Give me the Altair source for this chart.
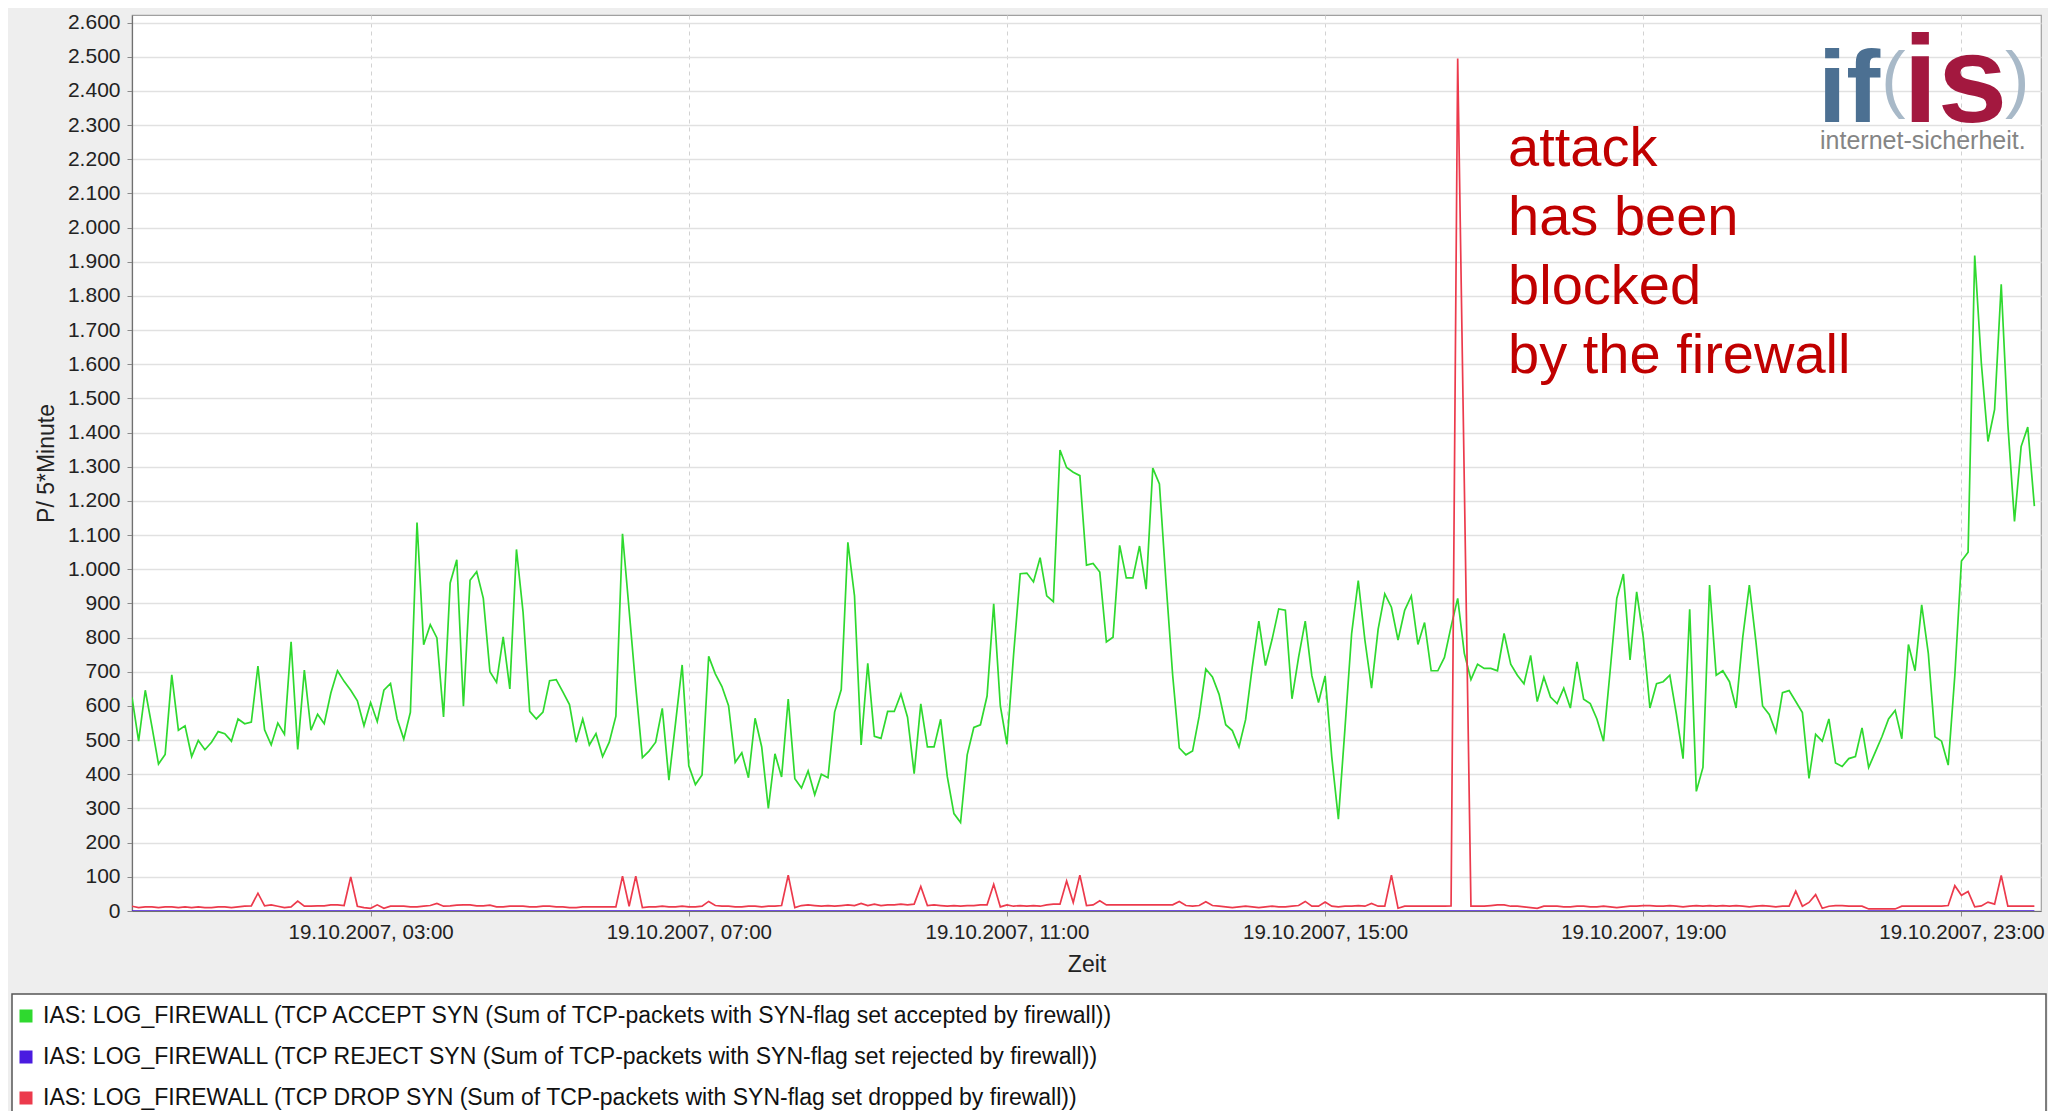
import altair as alt
import pandas as pd

# ---------------------------------------------------------------------------
# Data: 5-minute samples on 19.10.2007 from 00:00 to 23:55 (one row = one hour)
# ---------------------------------------------------------------------------
accept_syn = [
    625, 497, 646, 540, 430, 458, 691, 529, 542, 452, 499, 472,
    494, 525, 519, 497, 562, 548, 553, 717, 530, 486, 550, 517,
    788, 473, 705, 529, 576, 548, 638, 703, 672, 646, 615, 542,
    610, 554, 646, 666, 562, 503, 582, 1137, 779, 838, 799, 568,
    960, 1028, 599, 968, 993, 915, 700, 669, 802, 650, 1058, 874,
    584, 562, 582, 674, 677, 641, 604, 494, 562, 486, 519, 452,
    494, 570, 1104, 880, 655, 449, 468, 494, 593, 383, 550, 720,
    425, 370, 398, 745, 694, 657, 601, 435, 463, 390, 564, 480,
    300, 460, 392, 620, 387, 360, 410, 340, 400, 390, 582, 648,
    1079, 922, 486, 725, 511, 505, 584, 584, 635, 567, 402, 606,
    480, 480, 561, 393, 285, 259, 457, 537, 545, 629, 899, 600,
    488, 750, 987, 989, 963, 1034, 922, 905, 1349, 1298, 1284, 1274,
    1012, 1017, 992, 787, 801, 1070, 975, 975, 1068, 942, 1296, 1250,
    960, 690, 477, 457, 468, 570, 708, 685, 634, 545, 528, 480,
    560, 713, 848, 718, 795, 884, 880, 621, 743, 848, 688, 610,
    688, 451, 269, 536, 812, 967, 793, 652, 825, 928, 889, 793,
    880, 922, 780, 844, 703, 703, 742, 832, 915, 754, 677, 722,
    710, 710, 703, 812, 722, 690, 665, 748, 613, 684, 626, 607,
    652, 594, 729, 620, 607, 562, 497, 703, 915, 986, 735, 934,
    800, 594, 665, 671, 690, 575, 446, 883, 350, 420, 954, 690,
    703, 671, 594, 800, 954, 787, 600, 575, 523, 639, 645, 613,
    581, 388, 517, 497, 562, 433, 423, 446, 452, 536, 420, 465,
    510, 562, 587, 504, 780, 703, 896, 754, 510, 497, 427, 690,
    1024, 1050, 1918, 1603, 1374, 1468, 1834, 1423, 1140, 1359, 1416, 1185,
]

reject_syn = [
    0, 0, 0, 0, 0, 0, 0, 0, 0, 0, 0, 0,
    0, 0, 0, 0, 0, 0, 0, 0, 0, 0, 0, 0,
    0, 0, 0, 0, 0, 0, 0, 0, 0, 0, 0, 0,
    0, 0, 0, 0, 0, 0, 0, 0, 0, 0, 0, 0,
    0, 0, 0, 0, 0, 0, 0, 0, 0, 0, 0, 0,
    0, 0, 0, 0, 0, 0, 0, 0, 0, 0, 0, 0,
    0, 0, 0, 0, 0, 0, 0, 0, 0, 0, 0, 0,
    0, 0, 0, 0, 0, 0, 0, 0, 0, 0, 0, 0,
    0, 0, 0, 0, 0, 0, 0, 0, 0, 0, 0, 0,
    0, 0, 0, 0, 0, 0, 0, 0, 0, 0, 0, 0,
    0, 0, 0, 0, 0, 0, 0, 0, 0, 0, 0, 0,
    0, 0, 0, 0, 0, 0, 0, 0, 0, 0, 0, 0,
    0, 0, 0, 0, 0, 0, 0, 0, 0, 0, 0, 0,
    0, 0, 0, 0, 0, 0, 0, 0, 0, 0, 0, 0,
    0, 0, 0, 0, 0, 0, 0, 0, 0, 0, 0, 0,
    0, 0, 0, 0, 0, 0, 0, 0, 0, 0, 0, 0,
    0, 0, 0, 0, 0, 0, 0, 0, 0, 0, 0, 0,
    0, 0, 0, 0, 0, 0, 0, 0, 0, 0, 0, 0,
    0, 0, 0, 0, 0, 0, 0, 0, 0, 0, 0, 0,
    0, 0, 0, 0, 0, 0, 0, 0, 0, 0, 0, 0,
    0, 0, 0, 0, 0, 0, 0, 0, 0, 0, 0, 0,
    0, 0, 0, 0, 0, 0, 0, 0, 0, 0, 0, 0,
    0, 0, 0, 0, 0, 0, 0, 0, 0, 0, 0, 0,
    0, 0, 0, 0, 0, 0, 0, 0, 0, 0, 0, 0,
]

drop_syn = [
    14, 10, 12, 12, 10, 12, 12, 10, 12, 10, 12, 10,
    10, 12, 12, 10, 12, 14, 15, 52, 15, 18, 14, 10,
    12, 29, 14, 14, 15, 15, 18, 18, 16, 100, 14, 10,
    8, 18, 8, 14, 14, 14, 12, 12, 14, 16, 22, 14,
    15, 17, 18, 18, 15, 15, 17, 12, 12, 14, 14, 14,
    12, 12, 14, 14, 12, 12, 10, 10, 12, 12, 12, 12,
    12, 12, 102, 14, 102, 10, 12, 12, 14, 12, 12, 14,
    12, 12, 14, 28, 16, 14, 14, 12, 12, 14, 14, 12,
    14, 14, 16, 105, 10, 16, 18, 16, 14, 16, 14, 16,
    18, 16, 22, 16, 20, 16, 18, 18, 20, 18, 20, 72,
    16, 18, 16, 14, 16, 14, 16, 16, 18, 18, 78, 12,
    18, 14, 16, 14, 16, 14, 18, 20, 20, 88, 25, 105,
    16, 18, 30, 18, 18, 18, 18, 18, 18, 18, 18, 18,
    18, 18, 28, 16, 14, 16, 27, 16, 14, 12, 10, 12,
    14, 12, 10, 12, 14, 12, 12, 14, 16, 28, 14, 14,
    26, 14, 12, 14, 14, 16, 14, 22, 14, 14, 105, 8,
    14, 14, 14, 14, 14, 14, 14, 15, 2495, 1250, 14, 14,
    14, 16, 18, 18, 14, 14, 12, 10, 8, 14, 14, 14,
    12, 12, 14, 14, 12, 12, 14, 12, 10, 12, 14, 14,
    16, 16, 14, 14, 16, 14, 12, 14, 16, 14, 16, 14,
    16, 14, 16, 14, 12, 14, 16, 14, 12, 14, 14, 58,
    14, 25, 48, 8, 14, 16, 16, 14, 14, 14, 6, 6,
    6, 6, 6, 14, 14, 14, 14, 14, 14, 14, 16, 74,
    46, 57, 12, 15, 26, 20, 104, 14, 14, 14, 14, 14,
]

series_names = [
    "IAS: LOG_FIREWALL (TCP ACCEPT SYN (Sum of TCP-packets with SYN-flag set accepted by firewall))",
    "IAS: LOG_FIREWALL (TCP REJECT SYN (Sum of TCP-packets with SYN-flag set rejected by firewall))",
    "IAS: LOG_FIREWALL (TCP DROP SYN (Sum of TCP-packets with SYN-flag set dropped by firewall))",
]
series_colors = ["#2FD92F", "#4A1BE0", "#EC3A4C"]

y_ticks = [0, 100, 200, 300, 400, 500, 600, 700, 800, 900, 1000, 1100, 1200,
           1300, 1400, 1500, 1600, 1700, 1800, 1900, 2000, 2100, 2200, 2300,
           2400, 2500, 2600]
x_tick_hours = [3, 7, 11, 15, 19, 23]

annotation_text = "attack\nhas been\nblocked\nby the firewall"
annotation_time = "2007-10-19T17:18:00Z"
annotation_value = 2179

logo_parts = ["if", "(", "is", ")", "internet-sicherheit."]

# ---------------------------------------------------------------------------
start = pd.Timestamp("2007-10-19T00:00:00")
times = [(start + pd.Timedelta(minutes=5 * i)).strftime("%Y-%m-%dT%H:%M:%SZ")
         for i in range(len(accept_syn))]

rows = []
for name, values in zip(series_names, [accept_syn, reject_syn, drop_syn]):
    for t, v in zip(times, values):
        rows.append({"time": t, "value": v, "series": name})
df = pd.DataFrame(rows)

FONT = "Liberation Sans"

x_scale = alt.Scale(
    type="utc",
    domain=[alt.DateTime(year=2007, month=10, date=19, hours=0, utc=True),
            alt.DateTime(year=2007, month=10, date=20, hours=0, utc=True)],
)
y_scale = alt.Scale(domain=[0, 2622], nice=False, zero=True)

x_axis = alt.Axis(
    values=[alt.DateTime(year=2007, month=10, date=19, hours=h, utc=True) for h in x_tick_hours],
    labelExpr="utcFormat(datum.value, '%d.%m.%Y, %H:%M')",
    labelFont=FONT, labelFontSize=20.5, labelColor="#222222", labelPadding=6,
    labelOverlap=False, labelFlush=False,
    tickSize=5, tickColor="#8a8a8a",
    domainColor="#707070", domainWidth=1.2,
    grid=True, gridColor="#D2D2D2", gridDash=[4, 4], gridWidth=1,
    titleFont=FONT, titleFontSize=23, titleFontWeight="normal", titleColor="#222222",
    titleY=60, titleBaseline="alphabetic",
)
y_axis = alt.Axis(
    values=y_ticks, tickCount=27,
    labelExpr="replace(format(datum.value, ','), ',', '.')",
    labelFont=FONT, labelFontSize=21, labelColor="#222222", labelPadding=7,
    labelOverlap=False, labelFlush=False,
    tickSize=5, tickColor="#8a8a8a",
    domainColor="#707070", domainWidth=1.2,
    grid=True, gridColor="#E1E1E1", gridWidth=1.3,
    titleFont=FONT, titleFontSize=23, titleFontWeight="normal", titleColor="#222222",
    titleX=-86, titleY=448, titleAngle=-90, titleBaseline="middle", titleAlign="center",
)

x_enc = alt.X("time:T", scale=x_scale, axis=x_axis, title="Zeit")
y_enc = alt.Y("value:Q", scale=y_scale, axis=y_axis, title="P/ 5*Minute")

lines = alt.Chart(df).mark_line(strokeWidth=1.7, clip=True).encode(
    x=x_enc,
    y=y_enc,
    color=alt.Color(
        "series:N",
        scale=alt.Scale(domain=series_names, range=series_colors),
        sort=series_names,
        legend=alt.Legend(
            orient="none", legendX=-119, legendY=990, direction="vertical",
            title=None, symbolType="stroke", symbolSize=169, symbolStrokeWidth=13,
            symbolOpacity=1, clipHeight=22,
            labelFont=FONT, labelFontSize=23, labelColor="#111111", labelLimit=2000,
            labelOffset=4, rowPadding=18, padding=0, zindex=2,
        ),
    ),
)

annotation = alt.Chart(pd.DataFrame({
    "time": [annotation_time], "value": [annotation_value], "label": [annotation_text]
})).mark_text(
    align="left", baseline="alphabetic", font=FONT, fontSize=56,
    color="#C00000", lineBreak="\n", lineHeight=69,
).encode(
    x=x_enc,
    y=y_enc,
    text="label:N",
)

one = pd.DataFrame({"k": [0]})

# legend frame (decoration below the plot)
legend_box = alt.Chart(one).mark_rect(
    fill="white", stroke="#555555", strokeWidth=1.5, clip=False
).encode(
    x=alt.value(-120), x2=alt.value(1914), y=alt.value(979), y2=alt.value(1110)
)


def logo_piece(txt, px, py, size, color, weight="bold"):
    return alt.Chart(pd.DataFrame({"t": [txt]})).mark_text(
        font=FONT, fontSize=size, fontWeight=weight, color=color,
        align="left", baseline="alphabetic"
    ).encode(x=alt.value(px), y=alt.value(py), text="t:N")


logo = [
    logo_piece(logo_parts[0], 1686, 107, 102, "#4C7092"),
    logo_piece(logo_parts[1], 1749, 89, 74, "#A8B9C8", "normal"),
    logo_piece(logo_parts[2], 1771, 107, 125, "#A3183F"),
    logo_piece(logo_parts[3], 1873, 89, 74, "#A8B9C8", "normal"),
    logo_piece(logo_parts[4], 1688, 134, 25, "#858585", "normal"),
]

chart = alt.layer(
    legend_box, lines, annotation, *logo
).properties(
    width=1909, height=896,
    padding={"left": 124, "top": 7, "right": 7, "bottom": 200},
    autosize=alt.AutoSizeParams(type="none"),
    background="#EEEEEE",
).configure_view(
    fill="white", stroke="#A0A0A0", strokeWidth=1.2
).configure_axis(
    labelOverlap=False
)

chart.save("out.html", embed_options={"renderer": "svg", "actions": False})
